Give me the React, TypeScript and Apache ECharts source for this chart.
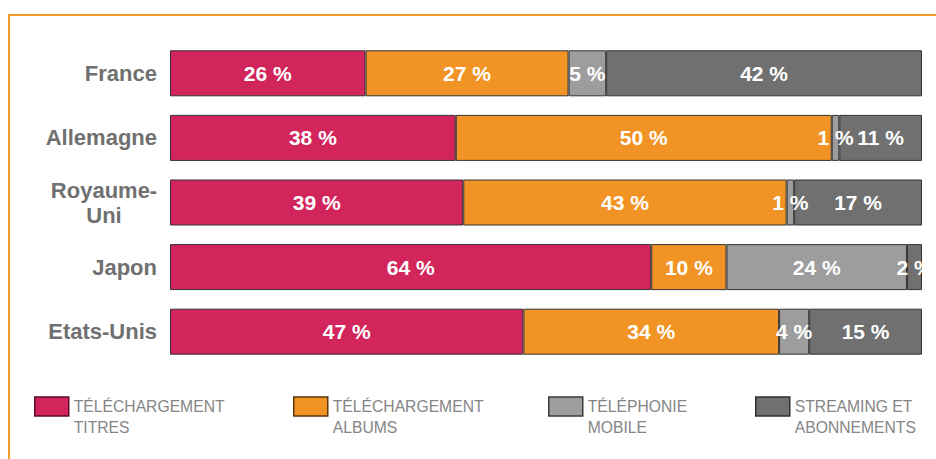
import React, { useEffect, useRef } from "react";
import * as echarts from "echarts";

const categories = ["France", "Allemagne", "Royaume-Uni", "Japon", "Etats-Unis"];
const seriesNames = [
  "TÉLÉCHARGEMENT\nTITRES",
  "TÉLÉCHARGEMENT\nALBUMS",
  "TÉLÉPHONIE\nMOBILE",
  "STREAMING ET\nABONNEMENTS",
];
const titres = [26, 38, 39, 64, 47];
const albums = [27, 50, 43, 10, 34];
const mobile = [5, 1, 1, 24, 4];
const streaming = [42, 11, 17, 2, 15];

const colors = ["#D2255C", "#F29425", "#9D9D9E", "#707070"];
const legendBorders = ["#5C0A26", "#5A3608", "#3A3A3A", "#2E2E2E"];
const legendLefts = [34, 293, 548, 755];

const FONT = "'Liberation Sans', Arial, sans-serif";

export default function App() {
  const ref = useRef<HTMLDivElement>(null);
  useEffect(() => {
    if (!ref.current) return;
    const chart = echarts.init(ref.current, null, { renderer: "svg" });
    const values = [titres, albums, mobile, streaming];
    chart.setOption({
      animation: false,
      backgroundColor: "#ffffff",
      textStyle: { fontFamily: FONT },
      graphic: [
        {
          type: "rect",
          shape: { x: 9, y: 15, width: 1200, height: 1000 },
          style: { fill: "none", stroke: "#F39A2E", lineWidth: 2 },
          silent: true,
        },
      ],
      grid: { left: 170, right: 14, top: 41, bottom: 95, containLabel: false },
      xAxis: { type: "value", min: 0, max: 100, show: false },
      yAxis: {
        type: "category",
        data: categories,
        inverse: true,
        axisLine: { show: false },
        axisTick: { show: false },
        axisLabel: {
          margin: 13,
          color: "#707070",
          fontSize: 22,
          fontWeight: "bold",
          fontFamily: FONT,
          lineHeight: 25,
          formatter: (v: string) =>
            v === "Royaume-Uni" ? "{c|Royaume-}\n{c|Uni}" : v,
          rich: {
            c: {
              width: 106,
              align: "center",
              color: "#707070",
              fontSize: 22,
              fontWeight: "bold",
              fontFamily: FONT,
              lineHeight: 25,
            },
          },
        },
      },
      legend: seriesNames.map((n, i) => ({
        data: [{ name: n, itemStyle: { borderColor: legendBorders[i], borderWidth: 1.5 } }],
        left: legendLefts[i],
        top: 375,
        padding: 0,
        itemWidth: 34,
        itemHeight: 19,
        icon: "rect",
        selectedMode: false,
        formatter: (name: string) => " \n" + name,
        textStyle: {
          color: "#858585",
          fontSize: 15.7,
          fontFamily: FONT,
          lineHeight: 21,
        },
      })),
      series: seriesNames.map((n, i) => ({
        name: n,
        type: "bar",
        stack: "total",
        barWidth: 46,
        data: values[i],
        itemStyle: { color: colors[i], borderColor: "#333333", borderWidth: 1 },
        label: {
          show: true,
          position: "inside",
          formatter: "{c} %",
          color: "#ffffff",
          fontSize: 21,
          fontWeight: "bold",
          fontFamily: FONT,
        },
      })),
    });
    return () => chart.dispose();
  }, []);
  return (
    <div
      ref={ref}
      style={{ position: "fixed", left: 0, top: 0, width: 936, height: 459 }}
    />
  );
}
